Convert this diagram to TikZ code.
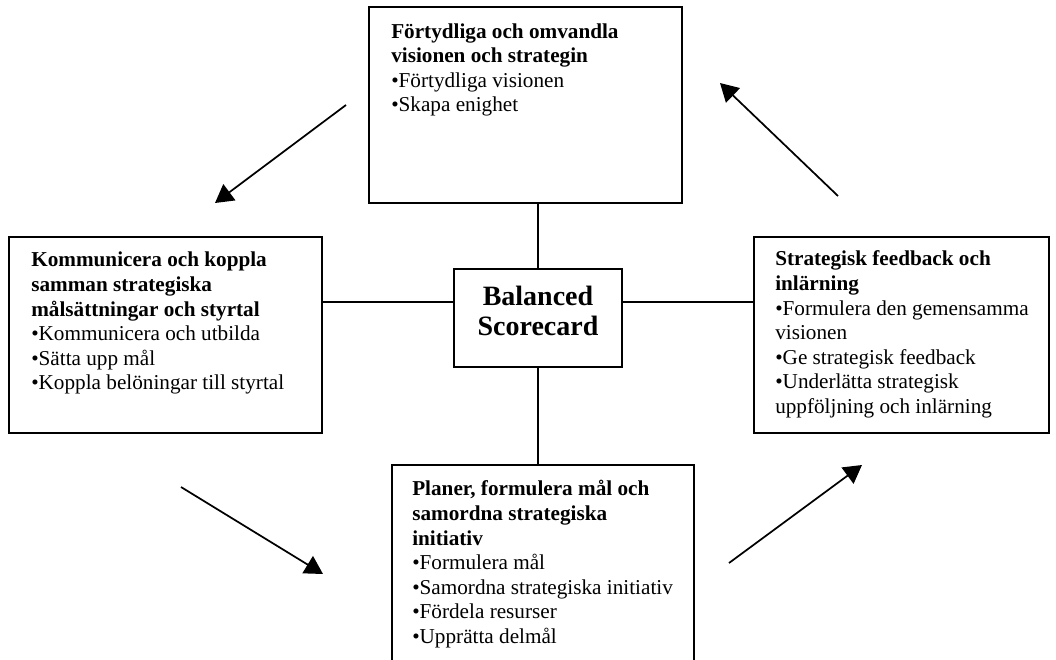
\documentclass[tikz,border=0pt]{standalone}
\usepackage{fontspec}
\setmainfont{Liberation Serif}
\usetikzlibrary{arrows.meta,fit}
\newcommand{\firstline}{\rule{0pt}{14pt}}
\begin{document}
\begin{tikzpicture}[x=0.75pt,y=-0.75pt,
  box/.style={draw,line width=1.3pt,inner sep=0pt},
  body/.style={anchor=north west,inner sep=0pt,align=left,
    font=\fontsize{15.9}{18.4}\selectfont},
  title/.style={anchor=north,inner sep=0pt,align=center,
    font=\fontsize{21}{22.5}\selectfont\bfseries},
  link/.style={line width=1.3pt},
  flow/.style={line width=1.3pt,-{Triangle[length=13.5pt,width=15pt]}}]
\useasboundingbox (0,0) rectangle (1056,660);
\clip (0,0) rectangle (1056,660);

% the five boxes
\node[box,fit={(369,7) (682,203)}] (top) {};
\node[box,fit={(9,237) (322,433)}] (left) {};
\node[box,fit={(754,237) (1049,433)}] (right) {};
\node[box,fit={(392,465) (694,700)}] (bot) {};
\node[box,fit={(454,269) (622,367)}] (mid) {};

% box texts
\node[title] (midT) at (538,286) {Balanced\\Scorecard};

\node[body] (topT) at (391,19.3) {\firstline\textbf{Förtydliga och omvandla}\\
  \textbf{visionen och strategin}\\
  •Förtydliga visionen\\
  •Skapa enighet};

\node[body] (leftT) at (31,248) {\firstline\textbf{Kommunicera och koppla}\\
  \textbf{samman strategiska}\\
  \textbf{målsättningar och styrtal}\\
  •Kommunicera och utbilda\\
  •Sätta upp mål\\
  •Koppla belöningar till styrtal};

\node[body] (rightT) at (775,247) {\firstline\textbf{Strategisk feedback och}\\
  \textbf{inlärning}\\
  •Formulera den gemensamma\\
  visionen\\
  •Ge strategisk feedback\\
  •Underlätta strategisk\\
  uppföljning och inlärning};

\node[body] (botT) at (412,477) {\firstline\textbf{Planer, formulera mål och}\\
  \textbf{samordna strategiska}\\
  \textbf{initiativ}\\
  •Formulera mål\\
  •Samordna strategiska initiativ\\
  •Fördela resurser\\
  •Upprätta delmål};

% spokes from the centre box
\coordinate (hl) at (0,302);
\draw[link] (mid.north) -- (mid.north |- top.south);
\draw[link] (mid.south) -- (mid.south |- bot.north);
\draw[link] (mid.west |- hl) -- (left.east |- hl);
\draw[link] (mid.east |- hl) -- (right.west |- hl);

% cycle arrows
\coordinate (a1s) at (346,105); \coordinate (a1e) at (215,203);
\coordinate (a2s) at (181,487); \coordinate (a2e) at (323,574);
\coordinate (a3s) at (729,563); \coordinate (a3e) at (862,465);
\coordinate (a4s) at (838,196); \coordinate (a4e) at (720,83);
\draw[flow] (a1s) -- (a1e);
\draw[flow] (a2s) -- (a2e);
\draw[flow] (a3s) -- (a3e);
\draw[flow] (a4s) -- (a4e);
\end{tikzpicture}
\end{document}
